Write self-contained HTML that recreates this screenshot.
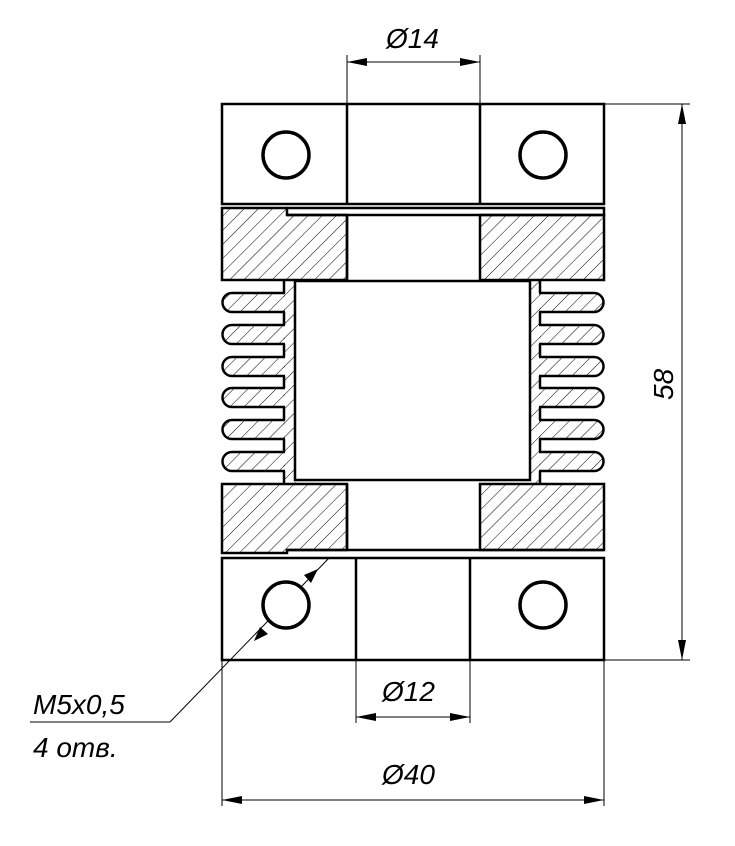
<!DOCTYPE html>
<html><head><meta charset="utf-8"><style>
html,body{margin:0;padding:0;background:#fff;width:735px;height:846px;overflow:hidden}
svg{display:block}
text{font-family:"Liberation Sans",sans-serif;font-style:italic;fill:#000}
</style></head><body>
<svg width="735" height="846" viewBox="0 0 735 846" xmlns="http://www.w3.org/2000/svg">
<defs>
<pattern id="h" width="10" height="10" patternUnits="userSpaceOnUse" patternTransform="rotate(45)">
<line x1="0" y1="0" x2="0" y2="10" stroke="#000" stroke-width="1"/>
</pattern>
<marker id="a" viewBox="0 0 20 8" refX="20" refY="4" markerWidth="20" markerHeight="8" markerUnits="userSpaceOnUse" orient="auto-start-reverse"><path d="M0,0 L20,4 L0,8 Z" fill="#000"/></marker>
</defs>
<g stroke="#000" stroke-width="1" fill="none">
<line x1="330" y1="557" x2="170" y2="722"/>
<line x1="170" y1="722" x2="30" y2="722"/>
</g>
<g fill="none" stroke="#000" stroke-width="2.5">
<rect x="222" y="104" width="382" height="100" fill="#fff"/>
<line x1="347" y1="104" x2="347" y2="204"/>
<line x1="480" y1="104" x2="480" y2="204"/>
<circle cx="286" cy="155" r="23" stroke-width="3.5"/>
<circle cx="543" cy="155" r="23" stroke-width="3.5"/>
<path d="M222,208 H287 V215 H347 V280 H222 Z" fill="url(#h)"/>
<rect x="480" y="215" width="124" height="65" fill="url(#h)"/>
<path d="M287,208 H604 V215 H287"/>
<line x1="347" y1="215" x2="347" y2="280"/>
<path d="M222,484 H347 V550 H287 V553 H222 Z" fill="url(#h)"/>
<rect x="480" y="484" width="124" height="66" fill="url(#h)"/>
<path d="M287,550 H604"/>
<line x1="347" y1="484" x2="347" y2="550"/>
<rect x="283" y="280" width="13" height="204" fill="url(#h)" stroke="none"/>
<rect x="529" y="280" width="12" height="204" fill="url(#h)" stroke="none"/>
<path d="M284,280V293 M284,312V325 M284,344V357 M284,376V388 M284,407V420 M284,439V452 M284,471V484"/>
<path d="M540,280V293 M540,312V325 M540,344V357 M540,376V388 M540,407V420 M540,439V452 M540,471V484"/>
<rect x="295" y="281" width="235" height="199" fill="#fff"/>
<g fill="url(#h)">
<path d="M285,293 H232 A9.5,9.5 0 0 0 232,312 H285"/>
<path d="M285,325 H232 A9.5,9.5 0 0 0 232,344 H285"/>
<path d="M285,357 H232 A9.5,9.5 0 0 0 232,376 H285"/>
<path d="M285,388 H232 A9.5,9.5 0 0 0 232,407 H285"/>
<path d="M285,420 H232 A9.5,9.5 0 0 0 232,439 H285"/>
<path d="M285,452 H232 A9.5,9.5 0 0 0 232,471 H285"/>
<path d="M539,293 H594 A9.5,9.5 0 0 1 594,312 H539"/>
<path d="M539,325 H594 A9.5,9.5 0 0 1 594,344 H539"/>
<path d="M539,357 H594 A9.5,9.5 0 0 1 594,376 H539"/>
<path d="M539,388 H594 A9.5,9.5 0 0 1 594,407 H539"/>
<path d="M539,420 H594 A9.5,9.5 0 0 1 594,439 H539"/>
<path d="M539,452 H594 A9.5,9.5 0 0 1 594,471 H539"/>
</g>
<rect x="222" y="558" width="382" height="102"/>
<line x1="356" y1="558" x2="356" y2="660"/>
<line x1="470" y1="558" x2="470" y2="660"/>
<circle cx="286" cy="605" r="23" fill="#fff" stroke-width="3.5"/>
<circle cx="543" cy="605" r="23" stroke-width="3.5"/>
</g>
<g stroke="#000" stroke-width="1" fill="none">
<line x1="347" y1="104" x2="347" y2="55"/>
<line x1="480" y1="104" x2="480" y2="55"/>
<line x1="347" y1="62" x2="480" y2="62" marker-start="url(#a)" marker-end="url(#a)"/>
<line x1="356" y1="660" x2="356" y2="723"/>
<line x1="470" y1="660" x2="470" y2="723"/>
<line x1="356" y1="717" x2="470" y2="717" marker-start="url(#a)" marker-end="url(#a)"/>
<line x1="222" y1="660" x2="222" y2="806"/>
<line x1="604" y1="660" x2="604" y2="806"/>
<line x1="222" y1="800" x2="604" y2="800" marker-start="url(#a)" marker-end="url(#a)"/>
<line x1="604" y1="104" x2="690" y2="104"/>
<line x1="604" y1="660" x2="690" y2="660"/>
<line x1="682" y1="104" x2="682" y2="660" marker-start="url(#a)" marker-end="url(#a)"/>
</g>
<path d="M318,569 L304,575 L311,583 Z M254,641 L260,627 L268,634 Z" fill="#000"/>
<g font-size="28">
<text x="386" y="48">Ø14</text>
<text x="382" y="701">Ø12</text>
<text x="382" y="784">Ø40</text>
<text transform="translate(673,400) rotate(-90)">58</text>
<text x="33" y="714">M5x0,5</text>
<text x="33" y="757">4 отв.</text>
</g>
</svg>
</body></html>
